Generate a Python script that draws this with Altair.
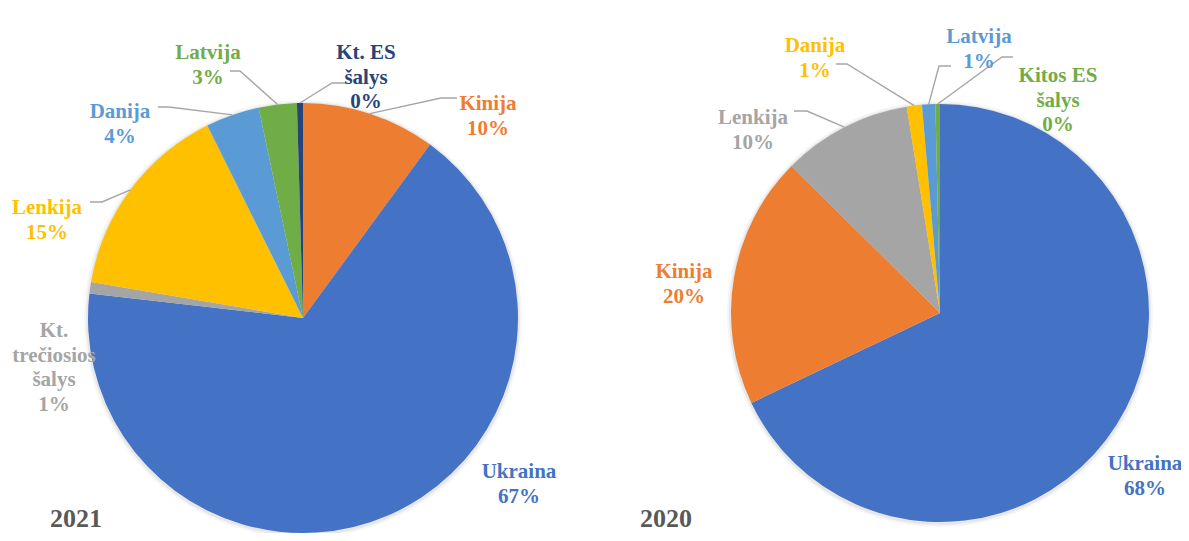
import math
import altair as alt
import pandas as pd

# ---------------- data ----------------
cats_2021 = ["Kinija", "Ukraina", "Kt. trečiosios šalys", "Lenkija", "Danija", "Latvija", "Kt. ES šalys"]
vals_2021 = [10.06, 66.76, 0.86, 14.98, 4.03, 2.86, 0.45]
labels_2021 = ["Kinija", "Ukraina", "Kt.\ntrečiosios\nšalys", "Lenkija", "Danija", "Latvija", "Kt. ES\nšalys"]

cats_2020 = ["Ukraina", "Kinija", "Lenkija", "Danija", "Latvija", "Kitos ES šalys"]
vals_2020 = [67.92, 19.5, 10.03, 1.17, 1.03, 0.35]
labels_2020 = ["Ukraina", "Kinija", "Lenkija", "Danija", "Latvija", "Kitos ES\nšalys"]

years = ["2021", "2020"]

# ---------------- styles ----------------
colors_2021 = ["#ED7D31", "#4472C4", "#A5A5A5", "#FFC000", "#5B9BD5", "#70AD47", "#264478"]
colors_2020 = ["#4472C4", "#ED7D31", "#A5A5A5", "#FFC000", "#5B9BD5", "#70AD47"]

# ---------------- layout (page pixels) ----------------
W, H, M = 1173, 525, 8
pies = [
    {"cx": 303, "cy": 318, "r": 215},
    {"cx": 940, "cy": 313, "r": 209},
]
# label block centres
label_pos_2021 = [(488, 104), (519, 472), (54, 331), (47, 208), (120, 112), (208, 53), (366, 53)]
label_pos_2020 = [(1145, 464), (684, 272), (753, 118), (815, 46), (979, 37), (1058, 76)]
# leader elbows / ends (None = no leader)
leaders_2021 = [((441, 98), (457, 98)), None, None, ((102, 202), (90, 202)),
                ((169, 107), (158, 107)), ((240, 71), (230, 71)), ((332, 83), (346, 83))]
leaders_2020 = [None, None, ((807, 111), (794, 111)), ((847, 64), (836, 64)),
                ((939, 66), (951, 66)), ((1002, 57), (1013, 57))]
year_pos = [(76, 527), (666, 527)]

xs = alt.Scale(domain=[0, W], range=[0, W], nice=False, zero=False)
ys = alt.Scale(domain=[0, H], reverse=True, nice=False, zero=False)

FONT = "Liberation Serif"

layers = []
label_rows = []
lead_rows = []

sets = [
    (cats_2021, vals_2021, labels_2021, colors_2021, label_pos_2021, leaders_2021),
    (cats_2020, vals_2020, labels_2020, colors_2020, label_pos_2020, leaders_2020),
]

for p, (cats, vals, labs, cols, lpos, leads) in enumerate(sets):
    pie = pies[p]
    df = pd.DataFrame({"cat": cats, "value": vals, "idx": list(range(len(cats))), "color": cols})
    # soft shadow
    for extra, op in [(4, 0.035), (2, 0.06)]:
        layers.append(
            alt.Chart(pd.DataFrame({"d": [0]})).mark_arc(
                outerRadius=pie["r"] + extra, theta=0, theta2=2 * math.pi, color="#000000", opacity=op
            ).encode(x=alt.value(pie["cx"] - M), y=alt.value(pie["cy"] - M + 1))
        )
    layers.append(
        alt.Chart(df).mark_arc(outerRadius=pie["r"]).encode(
            theta=alt.Theta("value:Q", stack=True),
            order=alt.Order("idx:Q"),
            color=alt.Color("color:N", scale=None),
            x=alt.value(pie["cx"] - M),
            y=alt.value(pie["cy"] - M),
        )
    )
    total = sum(vals)
    cum = 0.0
    for i, (c, v) in enumerate(zip(cats, vals)):
        mid = (cum + v / 2) / total * 2 * math.pi
        cum += v
        pct = f"{round(v / total * 100):.0f}%"
        label_rows.append({"key": f"{p}-{i}", "text": labs[i] + "\n" + pct,
                           "x": lpos[i][0] - M, "y": lpos[i][1] - M, "color": cols[i]})
        if leads[i] is not None:
            sx = pie["cx"] + pie["r"] * math.sin(mid)
            sy = pie["cy"] - pie["r"] * math.cos(mid)
            pts = [(sx, sy), leads[i][0], leads[i][1]]
            for k, (px, py) in enumerate(pts):
                lead_rows.append({"key": f"{p}-{i}", "pt": k, "x": px - M, "y": py - M})

lead_df = pd.DataFrame(lead_rows)
label_df = pd.DataFrame(label_rows)
year_df = pd.DataFrame({"text": years, "x": [q[0] - M for q in year_pos], "y": [q[1] - M for q in year_pos]})

leaders = alt.Chart(lead_df).mark_line(color="#A6A6A6", strokeWidth=1.4).encode(
    x=alt.X("x:Q", scale=xs, axis=None),
    y=alt.Y("y:Q", scale=ys, axis=None),
    detail="key:N",
    order="pt:Q",
)

labels = alt.Chart(label_df).mark_text(
    font=FONT, fontSize=21, fontWeight="bold", lineBreak="\n", lineHeight=24.5,
    align="center", baseline="middle"
).encode(
    x=alt.X("x:Q", scale=xs, axis=None),
    y=alt.Y("y:Q", scale=ys, axis=None),
    text="text:N",
    color=alt.Color("color:N", scale=None),
)

year_text = alt.Chart(year_df).mark_text(
    font=FONT, fontSize=26, fontWeight="bold", color="#595959", align="center", baseline="alphabetic"
).encode(
    x=alt.X("x:Q", scale=xs, axis=None),
    y=alt.Y("y:Q", scale=ys, axis=None),
    text="text:N",
)

chart = alt.layer(*layers, leaders, labels, year_text).resolve_scale(theta="independent").properties(
    width=W, height=H, padding=0, autosize=alt.AutoSizeParams(type="none"), background="#ffffff"
).configure(font=FONT).configure_text(font=FONT).configure_view(stroke=None)

chart.save("out.html", embed_options={"renderer": "svg", "actions": False})
